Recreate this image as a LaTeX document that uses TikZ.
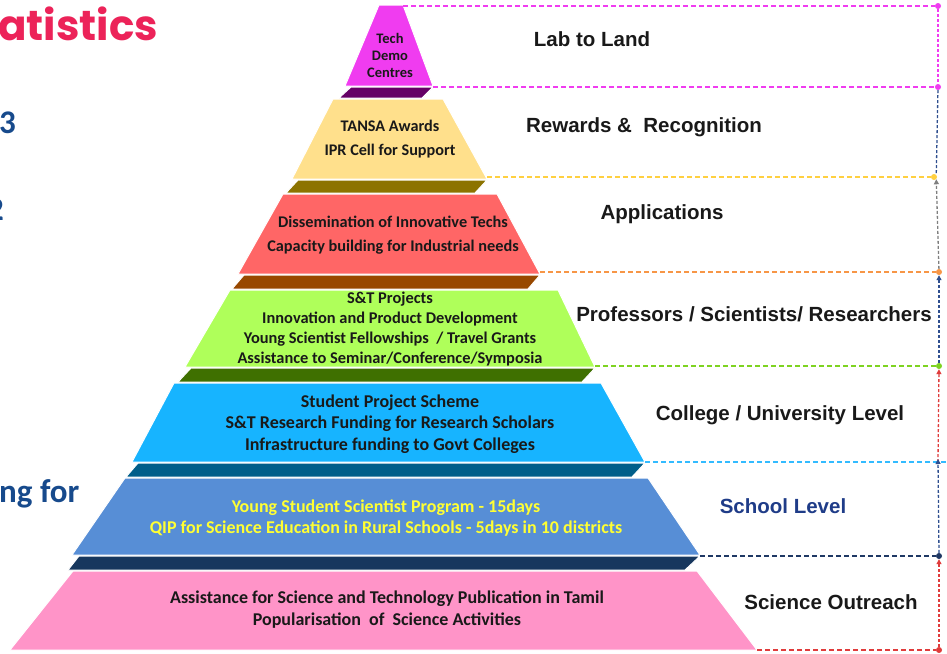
\documentclass[tikz,border=0pt]{standalone}
\usepackage{fontspec}
\setmainfont{Carlito}
\newfontfamily\lab{Liberation Sans}
\newfontfamily\popb{Poppins}
\usetikzlibrary{arrows.meta}
\definecolor{cMag}{HTML}{F03CF0}
\definecolor{cMagD}{HTML}{660066}
\definecolor{cYel}{HTML}{FFE08C}
\definecolor{cYelD}{HTML}{8C7300}
\definecolor{cRed}{HTML}{FF6666}
\definecolor{cRedD}{HTML}{984800}
\definecolor{cLim}{HTML}{AFFF5A}
\definecolor{cLimD}{HTML}{3F7000}
\definecolor{cCya}{HTML}{17B4FF}
\definecolor{cCyaD}{HTML}{005E8A}
\definecolor{cBlu}{HTML}{578ED6}
\definecolor{cBluD}{HTML}{17375E}
\definecolor{cPnk}{HTML}{FF94C8}
\definecolor{tYel}{HTML}{FFFF33}
\definecolor{tNavy}{HTML}{1F3C88}
\definecolor{tTitle}{HTML}{EC2359}
\definecolor{tBlue}{HTML}{174A8C}
\definecolor{lMag}{HTML}{F03CF0}
\definecolor{lYel}{HTML}{FFD040}
\definecolor{lOrg}{HTML}{F79646}
\definecolor{lGrn}{HTML}{7ED321}
\definecolor{lCya}{HTML}{33BBFF}
\definecolor{lNav}{HTML}{1F3864}
\definecolor{lRed}{HTML}{E03C3C}
\definecolor{lGry}{HTML}{7F7F7F}
\definecolor{lBlu}{HTML}{2F4F8F}
\tikzset{
  shapeedge/.style={draw=white, line width=1pt},
  lt/.style={font=\bfseries\fontsize{15.5}{20}\selectfont, align=center, text=black!90, inner sep=0},
  rl/.style={font=\lab\bfseries\fontsize{20.5}{24}\selectfont, inner sep=0, text=black!90},
  hd/.style={dash pattern=on 5pt off 3pt, line width=1.3pt},
  vd/.style={dash pattern=on 3pt off 2pt, line width=1.3pt, -{Triangle[length=5pt,width=5pt]}},
  vdn/.style={dash pattern=on 3pt off 2pt, line width=1.3pt},
  dotm/.style={circle, inner sep=0, minimum size=6pt},
  side/.style={font=\bfseries\fontsize{33}{33}\selectfont, text=tBlue, inner sep=0}
}
\begin{document}
\begin{tikzpicture}[x=1pt,y=-1pt]
\useasboundingbox (0,0) rectangle (947,653);
\clip (0,0) rectangle (947,653);
\fill[white] (0,0) rectangle (947,653);

% partial texts on the left
\node[anchor=base west, inner sep=0, text=tTitle, font=\popb\bfseries\fontsize{42}{42}\selectfont] (ttl) at (-2,40) {atistics};
\node[side, anchor=base west] (s3) at (-1,133) {3};
\node[side, anchor=base east] (s2) at (4,220) {2};
\node[side, anchor=base west] (sng) at (-1,502) {ng for};

% bands (3D edges)
\fill[cMagD, shapeedge] (351,87) -- (433,87) -- (422,98) -- (339,98) -- cycle;
\fill[cYelD, shapeedge] (298,180) -- (487,180) -- (475,193) -- (286,193) -- cycle;
\fill[cRedD, shapeedge] (244,275) -- (540,275) -- (528,289) -- (232,289) -- cycle;
\fill[cLimD, shapeedge] (191,368) -- (595,368) -- (582,382) -- (178,382) -- cycle;
\fill[cCyaD, shapeedge] (138,463) -- (645,463) -- (632,477) -- (126,477) -- cycle;
\fill[cBluD, shapeedge] (79,556) -- (700,556) -- (685,570) -- (68,570) -- cycle;

% layers
\fill[cMag, shapeedge] (379,5) -- (403,5) -- (433,86) -- (345,86) -- cycle;
\fill[cYel, shapeedge] (333,99) -- (443,99) -- (487,179) -- (292,179) -- cycle;
\fill[cRed, shapeedge] (283,194) -- (497,194) -- (540,274) -- (238,274) -- cycle;
\fill[cLim, shapeedge] (230,290) -- (558,290) -- (595,367) -- (185,367) -- cycle;
\fill[cCya, shapeedge] (174,383) -- (601,383) -- (645,462) -- (132,462) -- cycle;
\fill[cBlu, shapeedge] (125,478) -- (648,478) -- (700,555) -- (72,555) -- cycle;
\fill[cPnk, shapeedge] (73,571) -- (697,571) -- (757,650) -- (10,650) -- cycle;

% corner coordinates
\coordinate (k1) at (403,6);
\coordinate (k2) at (433,87);
\coordinate (k3) at (487,177);
\coordinate (k4) at (540,272);
\coordinate (k5) at (595,366);
\coordinate (k6) at (645,462);
\coordinate (k7) at (700,556);
\coordinate (k8) at (757,650);
\coordinate (e6) at (947,462);
\coordinate (v6) at (938,462);

% dots
\node[dotm, fill=lMag] (d1) at (938,6) {};
\node[dotm, fill=lMag] (d2) at (938,87) {};
\node[dotm, fill=lYel] (d3) at (934,177) {};
\node[dotm, fill=lOrg] (d4) at (939,272) {};
\node[dotm, fill=lGrn] (d5) at (939,366) {};
\node[dotm, fill=lNav] (d7) at (939,556) {};
\node[dotm, fill=lRed] (d8) at (939,650) {};

% horizontal dashed lines
\draw[hd, lMag] (k1) -- (d1);
\draw[hd, lMag] (k2) -- (d2);
\draw[hd, lYel] (k3) -- (d3);
\draw[hd, lOrg] (k4) -- (d4);
\draw[hd, lGrn] (k5) -- (d5);
\draw[hd, lCya] (k6) -- (e6);
\draw[hd, lNav] (k7) -- (d7);
\draw[hd, lRed] (k8) -- (d8);

% vertical connectors
\draw[vdn, lMag] (d1) -- (d2);
\draw[vdn, lBlu] (d2) -- (d3.north east);
\draw[vd, lGry] (d4) -- (d3.south east);
\draw[vd, lBlu] (d5) -- (d4);
\draw[vd, lRed] (v6) -- (d5);
\draw[vd, lBlu] (d7) -- ([yshift=3pt]v6);
\draw[vd, lRed] (d8) -- (d7);

% layer texts
\node[lt, font=\bfseries\fontsize{14.5}{17}\selectfont] (t1) at (390,55) {Tech\\Demo\\Centres};
\node[lt, font=\bfseries\fontsize{16.2}{24}\selectfont] (t2) at (390,139) {TANSA Awards\\IPR Cell for Support};
\node[lt, font=\bfseries\fontsize{16.3}{24}\selectfont] (t3) at (393,235) {Dissemination of Innovative Techs\\Capacity building for Industrial needs};
\node[lt, font=\bfseries\fontsize{16.4}{20}\selectfont] (t4) at (390,329) {S\&T Projects\\Innovation and Product Development\\Young Scientist Fellowships~ / Travel Grants\\Assistance to Seminar/Conference/Symposia};
\node[lt, font=\bfseries\fontsize{18}{21.5}\selectfont] (t5) at (390,424) {Student Project Scheme\\S\&T Research Funding for Research Scholars\\Infrastructure funding to Govt Colleges};
\node[lt, text=tYel, font=\bfseries\fontsize{18}{21}\selectfont] (t6) at (386,518) {Young Student Scientist Program - 15days\\QIP for Science Education in Rural Schools - 5days in 10 districts};
\node[lt, font=\bfseries\fontsize{18}{22}\selectfont] (t7) at (387,610) {Assistance for Science and Technology Publication in Tamil\\Popularisation~ of~ Science Activities};

% right labels
\node[rl] (r1) at (592,39) {Lab to Land};
\node[rl] (r2) at (644,127) {Rewards \&~ Recognition};
\node[rl] (r3) at (662,214) {Applications};
\node[rl] (r4) at (754,314) {Professors / Scientists/ Researchers};
\node[rl] (r5) at (780,415) {College / University Level};
\node[rl, text=tNavy] (r6) at (783,506) {School Level};
\node[rl] (r7) at (831,602) {Science Outreach};
\end{tikzpicture}
\end{document}
